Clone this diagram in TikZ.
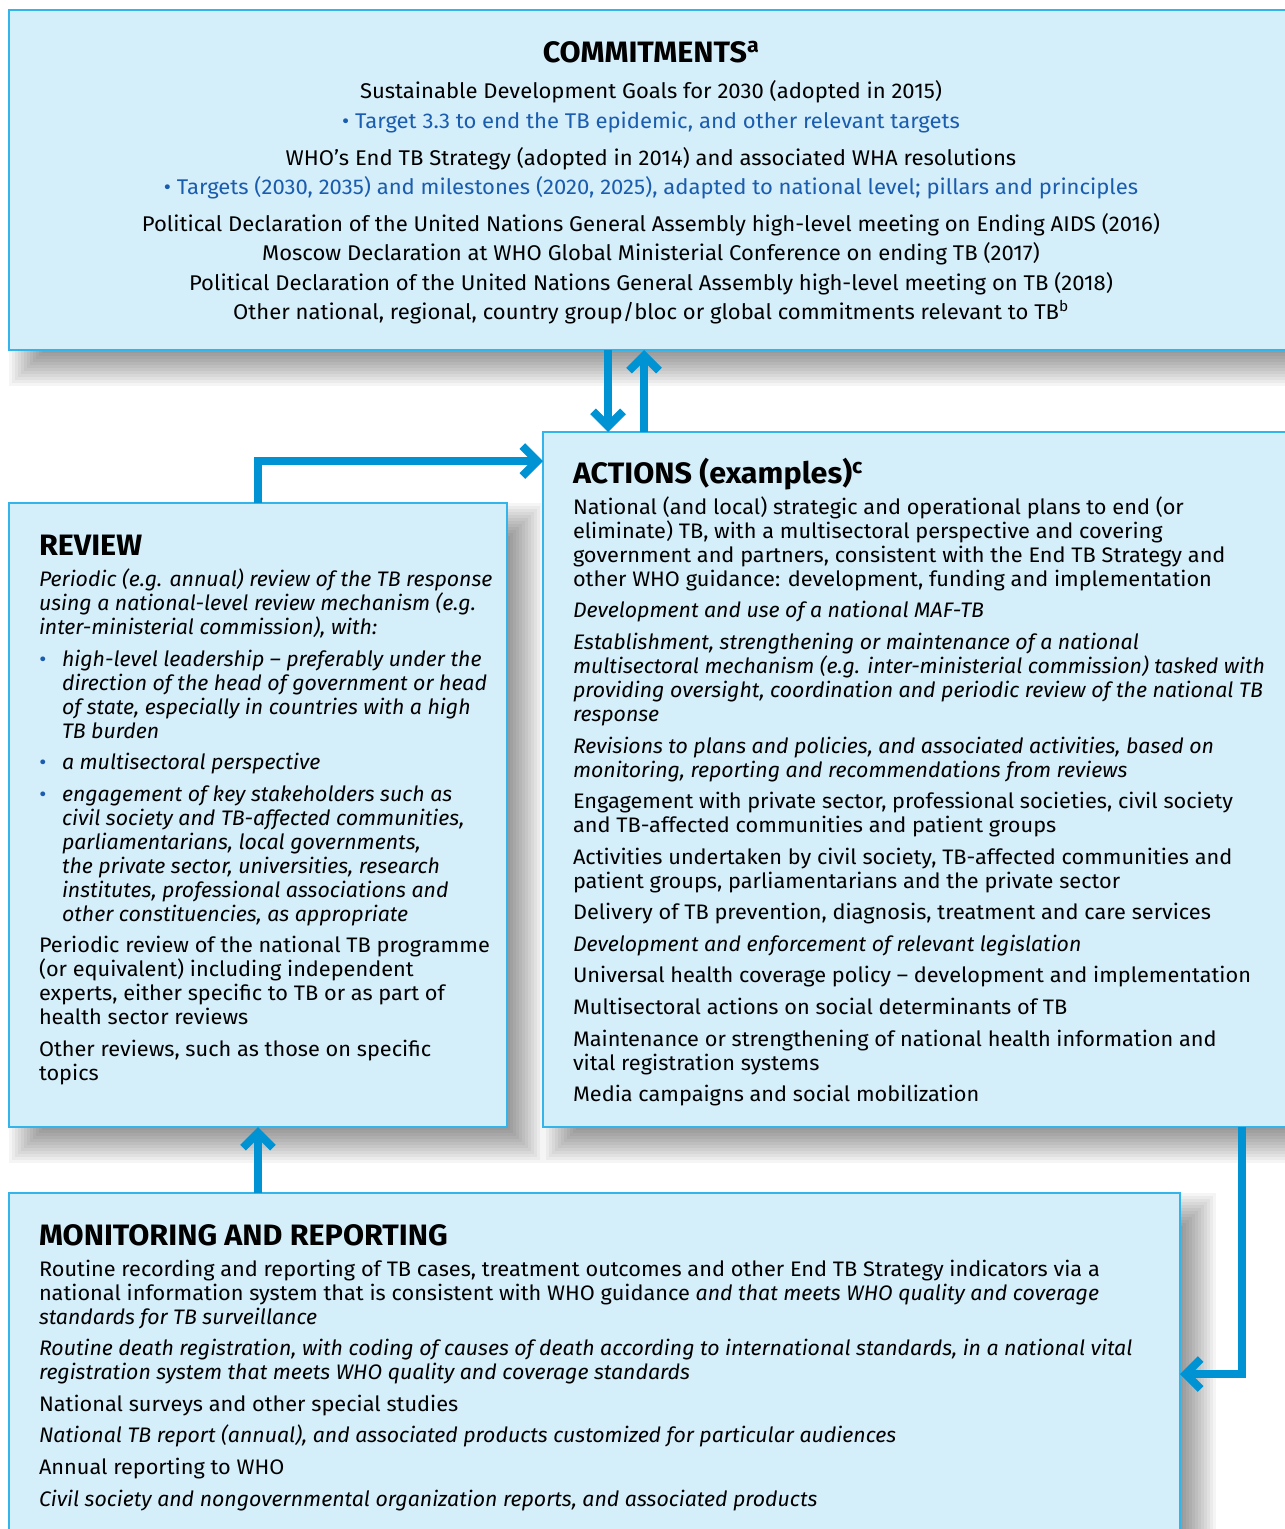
\documentclass[tikz,border=0pt]{standalone}
\usepackage{fontspec}
\setmainfont{Fira Sans}[UprightFeatures={FakeStretch=1.035}, BoldFeatures={FakeStretch=1.035}, ItalicFeatures={FakeStretch=1.015}]
\usetikzlibrary{arrows.meta,calc}
\definecolor{boxfill}{HTML}{D4EEFA}
\definecolor{boxline}{HTML}{33B5EC}
\definecolor{arrowblue}{HTML}{0093D3}
\definecolor{textblue}{HTML}{1A5CAE}
\newcommand{\boxshadow}[4]{%
  \foreach \k in {0,...,11}{%
    \fill[black, opacity=0.04] ({#1+3*\k},{#2+3*\k}) rectangle ({#3+36-3*\k},{#4+36-3*\k});
  }}
\tikzset{
  panel/.style={draw=boxline, line width=1.5pt, fill=boxfill, inner sep=0pt, outer sep=0pt, anchor=north west},
  body/.style={inner sep=0pt, outer sep=0pt, font=\fontsize{21}{24}\selectfont},
  cbody/.style={body, font=\fontsize{21.3}{24}\selectfont},
  ttl/.style={inner sep=0pt, outer sep=0pt, font=\fontsize{29.5}{30}\selectfont\bfseries},
  flow/.style={draw=arrowblue, line width=8pt, -{Straight Barb[length=15pt,width=30pt]}}
}
\begin{document}
\begin{tikzpicture}[x=1pt,y=-1pt]
\useasboundingbox (0,0) rectangle (1285,1529);
\clip (0,0) rectangle (1285,1529);
\fill[white] (0,0) rectangle (1285,1529);
% shadows
\boxshadow{9}{10}{1300}{350}
\boxshadow{543}{432}{1300}{1127}
\boxshadow{9}{503}{507}{1127}
\boxshadow{9}{1193}{1180}{1560}
% panels
\node[panel, minimum width=1291pt, minimum height=340pt] (commit) at (9,10) {};
\node[panel, minimum width=757pt, minimum height=695pt] (actions) at (543,432) {};
\node[panel, minimum width=498pt, minimum height=624pt] (review) at (9,503) {};
\node[panel, minimum width=1171pt, minimum height=367pt] (monitor) at (9,1193) {};
% connector guide coordinates
\coordinate (dnx) at (608,0);
\coordinate (upx) at (644,0);
\coordinate (rvx) at (258,0);
\coordinate (acx) at (1242,0);
\draw[flow] (dnx |- commit.south) -- (dnx |- actions.north);
\draw[flow] (upx |- actions.north) -- (upx |- commit.south);
\draw[flow] (rvx |- review.north) |- ($(actions.north west)+(0,29)$);
\draw[flow] (acx |- actions.south) |- ($(monitor.north east)+(0,181)$);
\draw[flow] (rvx |- monitor.north) -- (rvx |- review.south);
% titles
\node[ttl, anchor=base] (tcommit) at (651,62) {COMMITMENTS\textsuperscript{a}};
\node[ttl, anchor=base west] (tactions) at (573,483) {ACTIONS (examples)\textsuperscript{c}};
\node[ttl, anchor=base west] (treview) at (39,555) {REVIEW};
\node[ttl, anchor=base west] (tmonitor) at (39,1245) {MONITORING AND REPORTING};
% commitments text
\foreach \yy/\lintext [count=\i] in {
 98/{Sustainable Development Goals for 2030 (adopted in 2015)},
 128/{\color{textblue}• Target 3.3 to end the TB epidemic, and other relevant targets},
 165/{WHO’s End TB Strategy (adopted in 2014) and associated WHA resolutions},
 194/{\color{textblue}• Targets (2030, 2035) and milestones (2020, 2025), adapted to national level; pillars and principles},
 231/{Political Declaration of the United Nations General Assembly high-level meeting on Ending AIDS (2016)},
 260/{Moscow Declaration at WHO Global Ministerial Conference on ending TB (2017)},
 290/{Political Declaration of the United Nations General Assembly high-level meeting on TB (2018)},
 319/{Other national, regional, country group/bloc or global commitments relevant to TB\textsuperscript{b}}}
 \node[cbody, anchor=base] (cm\i) at (651,\yy) {\lintext};
% review text
\foreach \xx/\yy/\lintext [count=\i] in {
 39/586/{\itshape Periodic (e.g. annual) review of the TB response},
 39/610/{\itshape using a national-level review mechanism (e.g.},
 39/634/{\itshape inter-ministerial commission), with:},
 62/666/{\itshape high-level leadership – preferably under the},
 62/690/{\itshape direction of the head of government or head},
 62/714/{\itshape of state, especially in countries with a high},
 62/738/{\itshape TB burden},
 62/769/{\itshape a multisectoral perspective},
 62/801/{\itshape engagement of key stakeholders such as},
 62/825/{\itshape civil society and TB-affected communities,},
 62/849/{\itshape parliamentarians, local governments,},
 62/873/{\itshape the private sector, universities, research},
 62/897/{\itshape institutes, professional associations and},
 62/921/{\itshape other constituencies, as appropriate},
 39/952/{Periodic review of the national TB programme},
 39/976/{(or equivalent) including independent},
 39/1000/{experts, either specific to TB or as part of},
 39/1024/{health sector reviews},
 39/1056/{Other reviews, such as those on specific},
 39/1080/{topics}}
 \node[body, anchor=base west] (rv\i) at (\xx,\yy) {\lintext};
\foreach \yy [count=\i] in {666,769,801}
 \node[body, anchor=base, text=textblue] (rb\i) at (43,\yy) {•};
% actions text
\foreach \yy/\lintext [count=\i] in {
 514/{National (and local) strategic and operational plans to end (or},
 538/{eliminate) TB, with a multisectoral perspective and covering},
 562/{government and partners, consistent with the End TB Strategy and},
 586/{other WHO guidance: development, funding and implementation},
 617/{\itshape Development and use of a national MAF-TB},
 649/{\itshape Establishment, strengthening or maintenance of a national},
 673/{\itshape multisectoral mechanism (e.g. inter-ministerial commission) tasked with},
 697/{\itshape providing oversight, coordination and periodic review of the national TB},
 721/{\itshape response},
 753/{\itshape Revisions to plans and policies, and associated activities, based on},
 777/{\itshape monitoring, reporting and recommendations from reviews},
 808/{Engagement with private sector, professional societies, civil society},
 832/{and TB-affected communities and patient groups},
 864/{Activities undertaken by civil society, TB-affected communities and},
 888/{patient groups, parliamentarians and the private sector},
 919/{Delivery of TB prevention, diagnosis, treatment and care services},
 951/{\itshape Development and enforcement of relevant legislation},
 982/{Universal health coverage policy – development and implementation},
 1014/{Multisectoral actions on social determinants of TB},
 1046/{Maintenance or strengthening of national health information and},
 1070/{vital registration systems},
 1101/{Media campaigns and social mobilization}}
 \node[body, anchor=base west] (ac\i) at (573,\yy) {\lintext};
% monitoring text
\foreach \yy/\lintext [count=\i] in {
 1276/{Routine recording and reporting of TB cases, treatment outcomes and other End TB Strategy indicators via a},
 1300/{national information system that is consistent with WHO guidance \textit{and that meets WHO quality and coverage}},
 1324/{\itshape standards for TB surveillance},
 1355/{\itshape Routine death registration, with coding of causes of death according to international standards, in a national vital},
 1379/{\itshape registration system that meets WHO quality and coverage standards},
 1411/{National surveys and other special studies},
 1442/{\itshape National TB report (annual), and associated products customized for particular audiences},
 1474/{Annual reporting to WHO},
 1506/{\itshape Civil society and nongovernmental organization reports, and associated products}}
 \node[body, anchor=base west] (mr\i) at (39,\yy) {\lintext};
\end{tikzpicture}
\end{document}
